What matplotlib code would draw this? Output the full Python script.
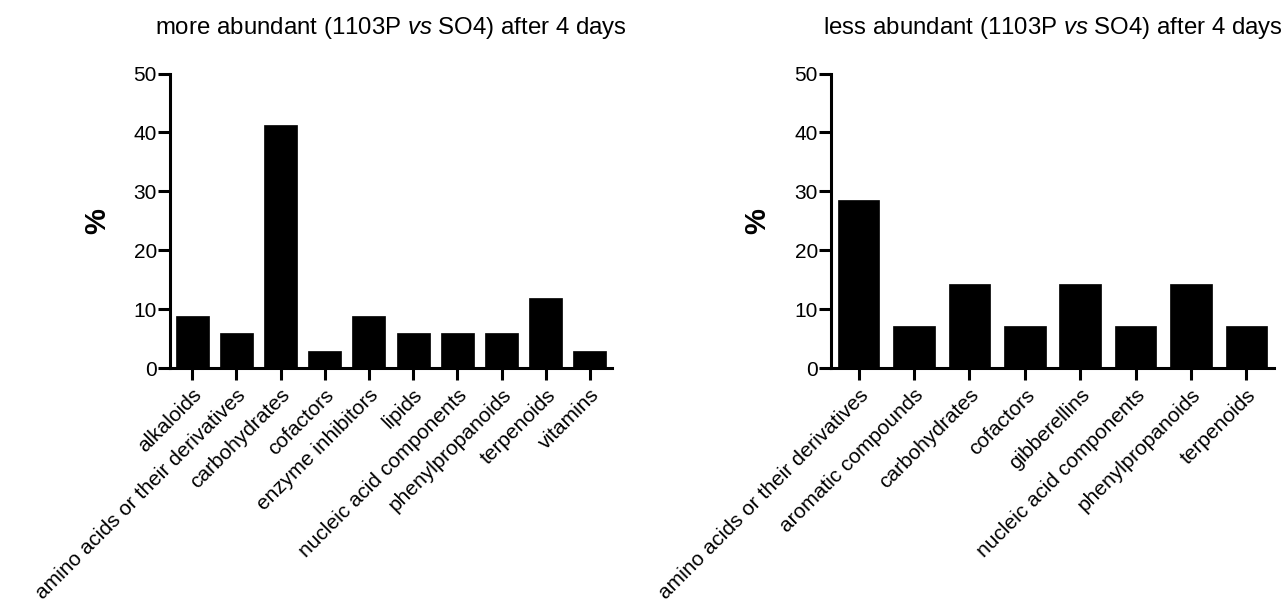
import matplotlib
matplotlib.use('Agg')
import matplotlib.pyplot as plt

plt.rcParams['font.family'] = ['Liberation Sans', 'DejaVu Sans']
plt.rcParams['mathtext.fontset'] = 'custom'
plt.rcParams['mathtext.rm'] = 'Liberation Sans'
plt.rcParams['mathtext.it'] = 'Liberation Sans:italic'

# data (percent of compounds per class)
more_cats = ['alkaloids', 'amino acids or their derivatives', 'carbohydrates',
             'cofactors', 'enzyme inhibitors', 'lipids',
             'nucleic acid components', 'phenylpropanoids', 'terpenoids',
             'vitamins']
more_vals = [8.8, 5.9, 41.2, 2.9, 8.8, 5.9, 5.9, 5.9, 11.8, 2.9]

less_cats = ['amino acids or their derivatives', 'aromatic compounds',
             'carbohydrates', 'cofactors', 'gibberellins',
             'nucleic acid components', 'phenylpropanoids', 'terpenoids']
less_vals = [28.6, 7.1, 14.3, 7.1, 14.3, 7.1, 14.3, 7.1]

more_title = 'more abundant (1103P $\\it{vs}$ SO4) after 4 days'
less_title = 'less abundant (1103P $\\it{vs}$ SO4) after 4 days'
yticks = [0, 10, 20, 30, 40, 50]

W, H = 1285, 615
fig = plt.figure(figsize=(W / 100, H / 100), dpi=100)


def draw(rect, cats, vals, title):
    ax = fig.add_axes(rect)
    x = list(range(len(cats)))
    ax.bar(x, vals, width=0.75, color='black', edgecolor='black', lw=0.5)
    ax.set_xlim(-0.5, len(cats) - 0.5)
    ax.set_ylim(0, 50)
    ax.set_yticks(yticks)
    ax.set_xticks(x)
    ax.set_xticklabels(cats, rotation=45, ha='right', va='top',
                       rotation_mode='anchor', fontsize=15)
    ax.tick_params(axis='y', labelsize=15, length=8.5, width=2.2, pad=1)
    ax.tick_params(axis='x', length=8.5, width=2.2, pad=4)
    for s in ['top', 'right']:
        ax.spines[s].set_visible(False)
    for s in ['left', 'bottom']:
        ax.spines[s].set_linewidth(2.2)
    ax.set_ylabel('%', fontsize=21, fontweight='bold')
    ax.yaxis.set_label_coords(-0.134, 0.5)
    ax.set_title(title, fontsize=17.3, y=(368 - 34) / 294.5,
                 va='baseline', pad=0)
    return ax


draw([170 / W, 1 - 368 / H, 442 / W, 294.5 / H],
     more_cats, more_vals, more_title)
draw([831 / W, 1 - 368 / H, 443 / W, 294.5 / H],
     less_cats, less_vals, less_title)

fig.savefig('out.png', dpi=100)
